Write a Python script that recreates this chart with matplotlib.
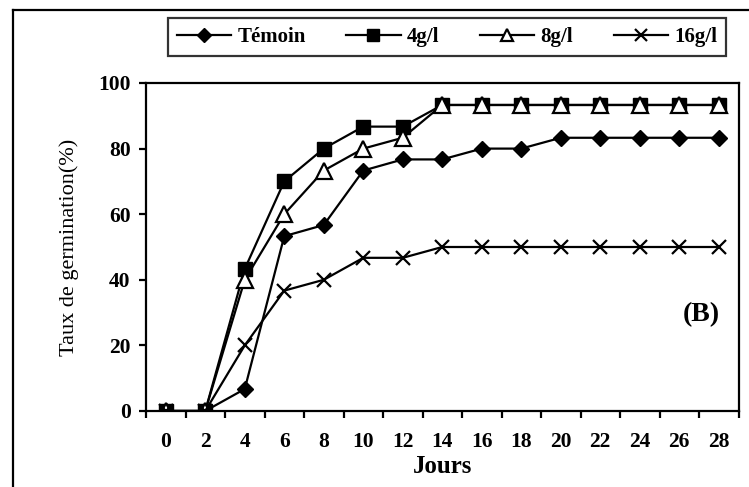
import matplotlib.pyplot as plt
from matplotlib.lines import Line2D

plt.rcParams['font.family'] = ['Liberation Serif', 'DejaVu Serif']

jours = [0, 2, 4, 6, 8, 10, 12, 14, 16, 18, 20, 22, 24, 26, 28]
temoin = [0, 0, 6.7, 53.3, 56.7, 73.3, 76.7, 76.7, 80, 80, 83.3, 83.3, 83.3, 83.3, 83.3]
c4 = [0, 0, 43.3, 70, 80, 86.7, 86.7, 93.3, 93.3, 93.3, 93.3, 93.3, 93.3, 93.3, 93.3]
c8 = [0, 0, 40, 60, 73.3, 80, 83.3, 93.3, 93.3, 93.3, 93.3, 93.3, 93.3, 93.3, 93.3]
c16 = [0, 0, 20, 36.7, 40, 46.7, 46.7, 50, 50, 50, 50, 50, 50, 50, 50]
noms = ['Témoin', '4g/l', '8g/l', '16g/l']

fig = plt.figure(figsize=(7.49, 4.87), dpi=100)
ax = fig.add_axes([146 / 749, 1 - 411 / 487, (738.5 - 146) / 749, (411 - 83) / 487])

lw = 1.6
ax.plot(jours, temoin, color='black', lw=lw, marker='D', ms=8, mfc='black', mec='black', label=noms[0])
ax.plot(jours, c4, color='black', lw=lw, marker='s', ms=9.5, mfc='black', mec='black', label=noms[1])
ax.plot(jours, c8, color='black', lw=lw, marker='^', ms=11, mfc='white', mec='black', mew=1.6, label=noms[2])
ax.plot(jours, c16, color='black', lw=lw, marker='x', ms=10, mec='black', mew=1.6, label=noms[3])

ax.set_xlim(-1, 29)
ax.set_ylim(0, 100)
# categories: ticks on boundaries, labels on the points
ax.set_xticks(range(-1, 30, 2))
ax.set_xticklabels([])
ax.set_xticks(jours, minor=True)
ax.set_xticklabels([str(j) for j in jours], minor=True, fontsize=15.5, fontweight='bold')
ax.tick_params(axis='x', which='minor', length=0, pad=15)
ax.tick_params(axis='x', which='major', direction='out', length=5, width=1.6)
ax.set_yticks(range(0, 101, 20))
ax.set_yticklabels([str(v) for v in range(0, 101, 20)], fontsize=15.5, fontweight='bold')
ax.tick_params(axis='y', direction='out', length=5, width=1.6, pad=6)
for s in ax.spines.values():
    s.set_linewidth(1.6)

ax.set_xlabel('Jours', fontsize=18, fontweight='bold', labelpad=2)
ax.set_ylabel('Taux de germination(%)', fontsize=16, labelpad=14)
ax.text(0.937, 0.293, '(B)', transform=ax.transAxes, fontsize=20, fontweight='bold',
        ha='center', va='center')

leg = fig.legend(loc='center', bbox_to_anchor=(447 / 749, 1 - 37 / 487), ncol=4,
                 frameon=True, fancybox=False, edgecolor='black', handlelength=2.6,
                 columnspacing=1.95, handletextpad=0.3, borderpad=0.45, markerscale=0.85,
                 prop={'weight': 'bold', 'size': 15})
leg.get_frame().set_linewidth(1.6)

# outer frame (top and left visible)
fig.add_artist(Line2D([13 / 749, 13 / 749], [0, 1 - 10 / 487], color='black', lw=1.6))
fig.add_artist(Line2D([13 / 749, 1], [1 - 10 / 487, 1 - 10 / 487], color='black', lw=1.6))

fig.savefig('out.png', dpi=100)
